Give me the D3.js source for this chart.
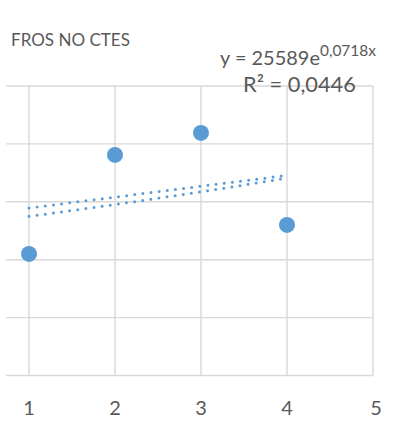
<!DOCTYPE html>
<html><head><meta charset="utf-8">
<script src="https://cdn.jsdelivr.net/npm/d3@7"></script>
<style>body{margin:0;background:#fff}svg{display:block}</style>
</head><body>
<script>
const title = "FROS NO CTES";
const xValues = [1, 2, 3, 4];
const yValues = [21000, 38100, 41900, 26000];
const xTicks = [1, 2, 3, 4, 5];
const yGrid = [0, 10000, 20000, 30000, 40000, 50000];
const expA = 25589, expB = 0.0718;
const eqMain = "y = 25589e", eqSup = "0,0718x", r2Text = "R² = 0,0446";

const W = 404, H = 433;
const svg = d3.select("body").append("svg").attr("width", W).attr("height", H);
const x = d3.scaleLinear().domain([0, 5]).range([-57, 373]);
const y = d3.scaleLinear().domain([0, 50000]).range([375.5, 86]);
const left = 6, right = 373;
const grid = "#d9d9d9", txt = "#595959", blue = "#5b9bd5";
const font = "Lato, 'Open Sans', sans-serif";

function fit(sel, target) {
  const w = sel.node().getComputedTextLength();
  const fs = parseFloat(sel.attr("font-size"));
  sel.attr("font-size", fs * target / w);
}

// horizontal gridlines
svg.append("g").selectAll("line").data(yGrid).join("line")
  .attr("x1", left).attr("x2", right)
  .attr("y1", d => y(d)).attr("y2", d => y(d))
  .attr("stroke", grid).attr("stroke-width", 1.4);
// vertical gridlines
svg.append("g").selectAll("line").data(xTicks).join("line")
  .attr("x1", d => x(d)).attr("x2", d => x(d))
  .attr("y1", y(50000)).attr("y2", y(0))
  .attr("stroke", grid).attr("stroke-width", 1.4);

// x tick labels
svg.append("g").selectAll("text").data(xTicks).join("text")
  .attr("x", d => x(d) + (d === 5 ? 3 : 0)).attr("y", 414.5)
  .attr("text-anchor", "middle").attr("fill", txt)
  .attr("font-family", font).attr("font-size", 20).text(d => d);

// trendlines
const mx = d3.mean(xValues), my = d3.mean(yValues);
const slope = d3.sum(xValues, (v, i) => (v - mx) * (yValues[i] - my)) / d3.sum(xValues, v => (v - mx) ** 2);
const icpt = my - slope * mx;
const xs = d3.range(1, 4.0001, 0.05);
const line = d3.line().x(d => x(d[0])).y(d => y(d[1]));
svg.append("path").attr("d", line(xs.map(v => [v, icpt + slope * v])))
  .attr("fill", "none").attr("stroke", blue).attr("stroke-width", 3)
  .attr("stroke-linecap", "round").attr("stroke-dasharray", "0 8.2");
svg.append("path").attr("d", line(xs.map(v => [v, expA * Math.exp(expB * v)])))
  .attr("fill", "none").attr("stroke", blue).attr("stroke-width", 3)
  .attr("stroke-linecap", "round").attr("stroke-dasharray", "0 8.2");

// points
svg.append("g").selectAll("circle").data(xValues).join("circle")
  .attr("cx", d => x(d)).attr("cy", (d, i) => y(yValues[i])).attr("r", 8)
  .attr("fill", blue);

// title
const t = svg.append("text").attr("x", 11).attr("y", 46).attr("fill", txt)
  .attr("font-family", font).attr("font-size", 17).text(title);
fit(t, 119);

// equation
const eq = svg.append("text").attr("x", 220).attr("y", 65).attr("fill", txt)
  .attr("font-family", font);
const m = eq.append("tspan").attr("font-size", 20).text(eqMain);
fit(m, 100);
const s = eq.append("tspan").attr("dy", -9).attr("font-size", 13).text(eqSup);
fit(s, 56);
const r = svg.append("text").attr("x", 243).attr("y", 92).attr("fill", txt)
  .attr("font-family", font).attr("font-size", 20).text(r2Text);
fit(r, 113);
</script>
</body></html>
